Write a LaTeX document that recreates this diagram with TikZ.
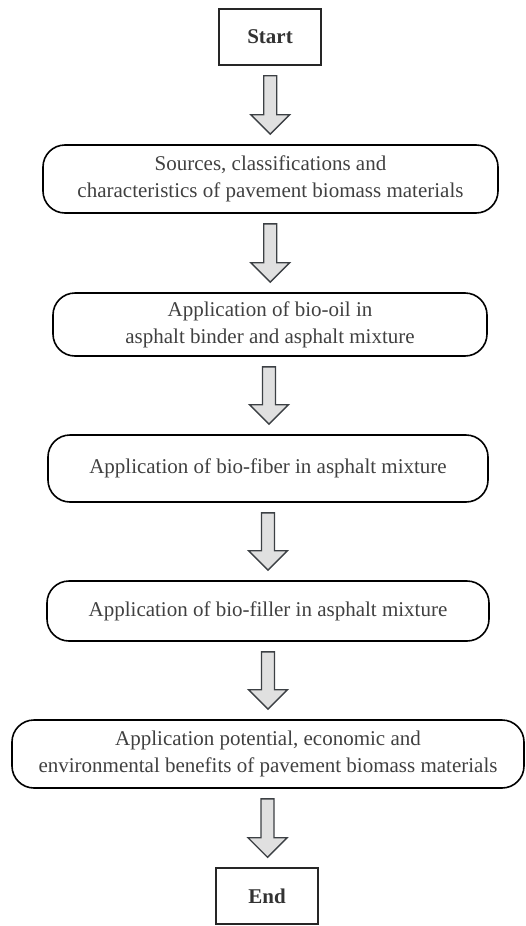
\documentclass[tikz,border=0pt]{standalone}
\usepackage{fontspec}
\setmainfont{Liberation Serif}
\usetikzlibrary{calc}

\definecolor{txtgray}{HTML}{404040}
\definecolor{arrowfill}{HTML}{E0E0E0}
\definecolor{arrowline}{HTML}{3C4044}

\tikzset{
  stagebox/.style={draw=black, line width=1.6pt, rounded corners=22pt,
    align=center, text=txtgray, inner sep=0pt,
    font=\fontsize{21pt}{27pt}\selectfont},
  termbox/.style={draw=black!85, line width=1.5pt, align=center,
    text=black!80, inner sep=0pt, minimum width=102pt, minimum height=56pt,
    font=\fontsize{21pt}{27pt}\selectfont\bfseries},
  blockarrow/.style={draw=arrowline, fill=arrowfill, line width=1.4pt,
    line join=miter}
}

% hollow block arrow from the bottom of #1 to the top of #2
\newcommand\flowarrow[2]{%
  \draw[blockarrow] let \p1=(#1.south), \p2=(#2.north), \n1={(\x1+\x2)/2} in
    (\n1-6.5pt,\y1-10pt) -- (\n1+6.5pt,\y1-10pt) -- (\n1+6.5pt,\y2+29.5pt)
    -- (\n1+19.5pt,\y2+29.5pt) -- (\n1,\y2+10pt) -- (\n1-19.5pt,\y2+29.5pt)
    -- (\n1-6.5pt,\y2+29.5pt) -- cycle;}

\begin{document}
\begin{tikzpicture}[x=1pt,y=-1pt]
\useasboundingbox (0,0) rectangle (525,926);

\node[termbox] (start) at (270,37) {Start};

\node[stagebox, minimum width=455pt, minimum height=68pt] (sources) at (270.5,179)
  {Sources, classifications and\\characteristics of pavement biomass materials};

\node[stagebox, minimum width=434pt, minimum height=63pt] (oil) at (270,324.5)
  {Application of bio-oil in\\asphalt binder and asphalt mixture};

\node[stagebox, minimum width=440pt, minimum height=67pt] (fiber) at (268,468.5)
  {Application of bio-fiber in asphalt mixture};

\node[stagebox, minimum width=442pt, minimum height=60pt] (filler) at (268,611)
  {Application of bio-filler in asphalt mixture};

\node[stagebox, minimum width=512pt, minimum height=68pt] (benefits) at (268,754)
  {Application potential, economic and\\environmental benefits of pavement biomass materials};

\node[termbox] (end) at (267,896) {End};

\flowarrow{start}{sources}
\flowarrow{sources}{oil}
\flowarrow{oil}{fiber}
\flowarrow{fiber}{filler}
\flowarrow{filler}{benefits}
\flowarrow{benefits}{end}
\end{tikzpicture}
\end{document}
